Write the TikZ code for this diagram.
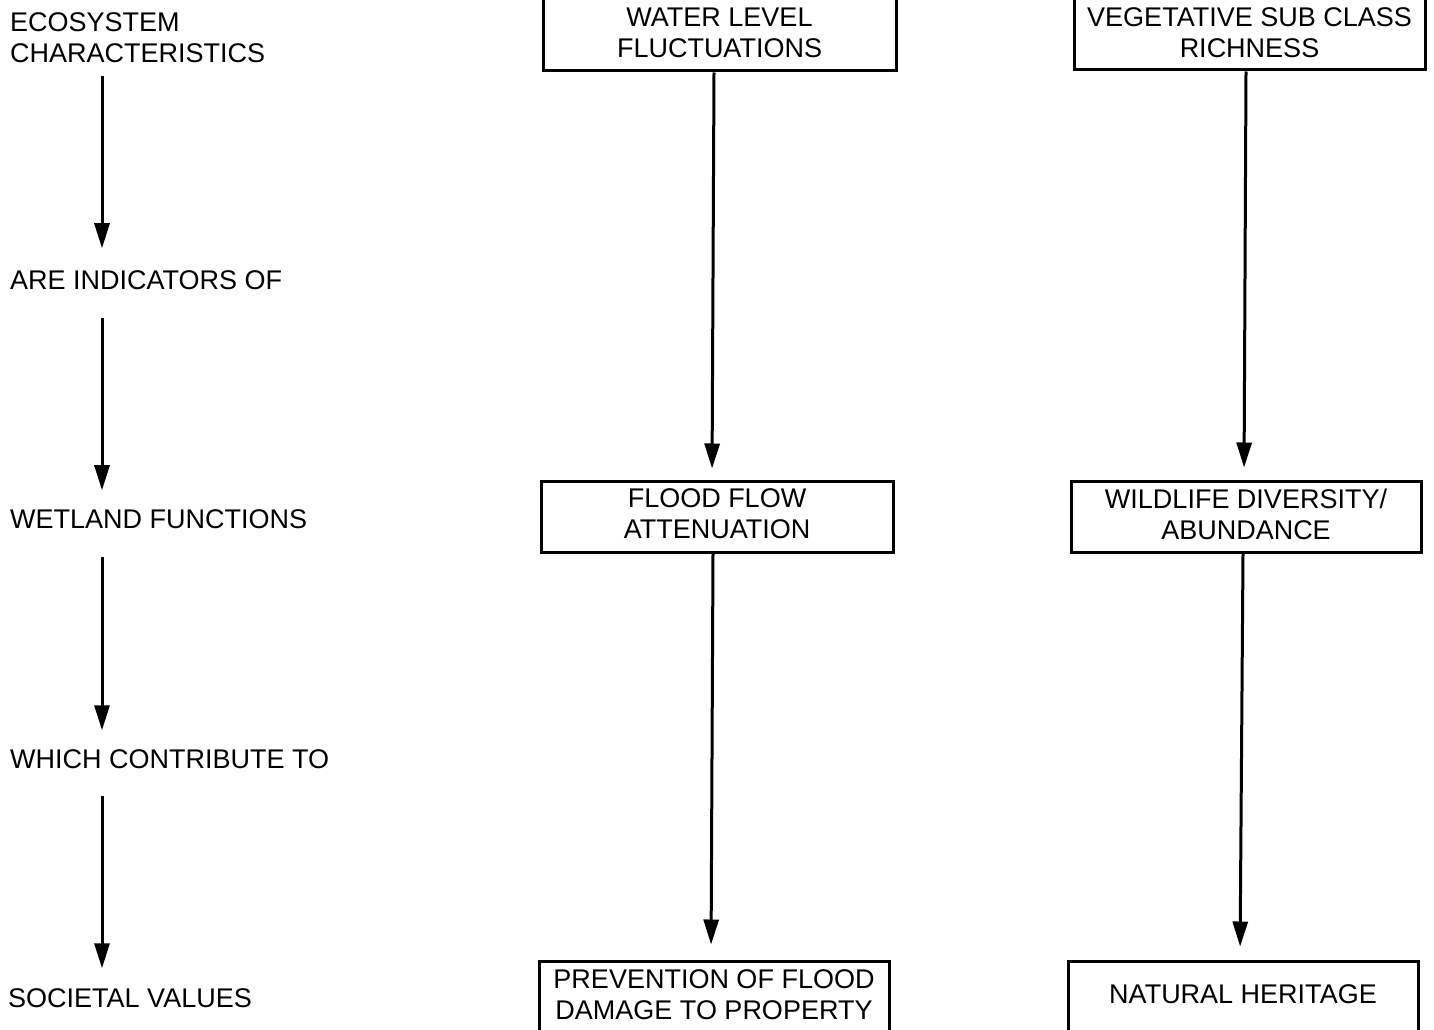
\documentclass[tikz,border=0pt]{standalone}
\usepackage{fontspec}
\setmainfont{Liberation Sans}
\usetikzlibrary{arrows.meta}
\begin{document}
\begin{tikzpicture}[x=1pt,y=-1pt,
  every node/.style={font=\fontsize{27}{31}\selectfont, inner sep=0pt},
  lbl/.style={anchor=west, align=left},
  box/.style={draw, line width=3pt, align=center},
  arr/.style={line width=3pt, -{Triangle[length=25pt,width=15pt]}}]
\useasboundingbox (0,0) rectangle (1434,1030);
\clip (0,0) rectangle (1434,1030);
% left column labels
\node[lbl] (l1) at (10,37.5) {ECOSYSTEM\\CHARACTERISTICS};
\node[lbl] (l2) at (10,280) {ARE INDICATORS OF};
\node[lbl] (l3) at (10,519) {WETLAND FUNCTIONS};
\node[lbl] (l4) at (10,759) {WHICH CONTRIBUTE TO};
\node[lbl] (l5) at (8,998) {SOCIETAL VALUES};
\coordinate (ax) at (102,0);
\draw[arr, shorten <=13pt, shorten >=22pt] (l1.south -| ax) -- (l2.north -| ax);
\draw[arr, shorten <=28pt, shorten >=19pt] (l2.south -| ax) -- (l3.north -| ax);
\draw[arr, shorten <=28pt, shorten >=19pt] (l3.south -| ax) -- (l4.north -| ax);
\draw[arr, shorten <=27pt, shorten >=20pt] (l4.south -| ax) -- (l5.north -| ax);
% boxes
\node[box, minimum width=353pt, minimum height=76pt] (A) at (719.5,33) {WATER LEVEL\\FLUCTUATIONS};
\node[box, minimum width=351pt, minimum height=75pt] (B) at (1249.5,32.5) {VEGETATIVE SUB CLASS\\RICHNESS};
\node[box, minimum width=352pt, minimum height=71pt, text depth=5pt] (C) at (717,516.5) {FLOOD FLOW\\ATTENUATION};
\node[box, minimum width=350pt, minimum height=71pt, text depth=5pt] (D) at (1246,516.5) {WILDLIFE DIVERSITY/\\ABUNDANCE};
\node[box, minimum width=350pt, minimum height=80pt, text depth=12pt] (E) at (714,1001) {PREVENTION OF FLOOD\\DAMAGE TO PROPERTY};
\node[box, minimum width=350pt, minimum height=80pt, text depth=14pt] (F) at (1243,1001) {NATURAL HERITAGE};
% connectors
\draw[arr, shorten >=11pt] ([xshift=-5.5pt]A.south) -- ([xshift=-5pt]C.north);
\draw[arr, shorten >=12pt] ([xshift=-3.5pt]B.south) -- ([xshift=-2pt]D.north);
\draw[arr, shorten >=15pt] ([xshift=-4pt]C.south) -- ([xshift=-3pt]E.north);
\draw[arr, shorten >=13pt] ([xshift=-3pt]D.south) -- ([xshift=-3pt]F.north);
\end{tikzpicture}
\end{document}
